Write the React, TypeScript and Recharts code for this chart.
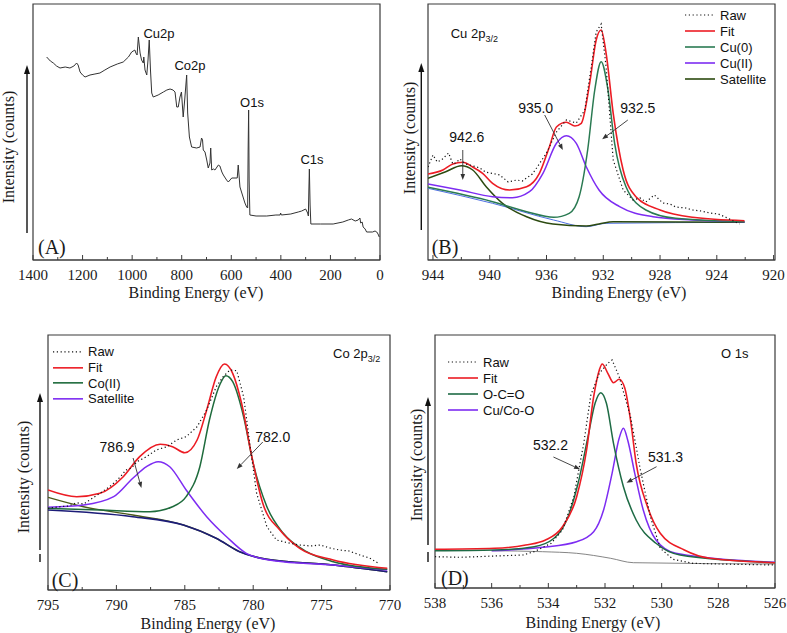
import React from 'react';
import { LineChart, Line, XAxis, YAxis, ReferenceArea, ReferenceLine, Legend, Label } from 'recharts';

type Pt = [number, number];

// ---------- (A) survey ----------
const A_SURVEY: Pt[] = [
  [1345, 203], [1330, 199], [1318, 197], [1305, 194], [1291, 192], [1270, 193], [1251, 192], [1235, 194],
  [1224, 197], [1218, 195], [1210, 188], [1200, 185], [1190, 183], [1170, 185], [1150, 186], [1130, 187],
  [1110, 190], [1089, 193], [1060, 196], [1036, 198], [1015, 203], [1002, 208], [989, 210], [985, 207],
  [980, 205], [975, 223], [968, 207], [962, 200], [955, 197], [953, 203], [948, 190], [941, 185],
  [936, 200], [931, 220], [926, 190], [921, 167], [915, 163], [895, 165], [874, 168], [860, 170],
  [847, 171], [835, 170], [827, 168], [820, 153], [814, 153], [807, 163], [801, 168], [794, 143],
  [788, 160], [780, 185], [776, 147], [769, 123], [760, 113], [740, 112], [726, 113], [720, 122],
  [716, 120], [713, 110], [706, 108], [699, 100], [693, 92], [686, 97], [683, 112], [679, 90],
  [672, 91], [666, 90], [652, 95], [646, 94], [638, 88], [632, 85], [619, 80], [612, 78],
  [598, 82], [585, 82], [576, 82], [572, 95], [565, 73], [555, 65], [545, 57], [538, 53],
  [534, 52], [532, 110], [530, 150], [528, 80], [525, 45], [500, 44], [457, 44], [420, 45],
  [403, 45], [401, 47], [398, 45], [360, 46], [330, 48], [316, 49], [300, 51], [292, 47],
  [289, 44], [287, 70], [285, 91], [282, 55], [279, 36], [240, 36], [189, 36], [150, 38],
  [128, 40], [115, 41], [100, 39], [88, 40], [81, 42], [78, 37], [72, 38], [68, 33],
  [60, 31], [54, 28], [30, 28], [20, 29], [13, 28], [8, 26], [3, 23],
];
const A_MAJOR = [1400, 1200, 1000, 800, 600, 400, 200, 0];
const A_MINOR = [1300, 1100, 900, 700, 500, 300, 100];
const A_PEAK_NAMES = ['Cu2p', 'Co2p', 'O1s', 'C1s'];

// ---------- (B) Cu 2p3/2 ----------
const B_RAW: Pt[] = [
  [944.35, 93], [944, 105], [943.7, 98], [943.4, 100], [942.9, 107], [942.6, 96], [942.4, 97], [942.1, 101],
  [941.7, 96], [941.4, 95], [940.7, 92], [940.3, 88], [940, 87], [939.6, 86], [939.3, 85], [938.7, 78],
  [938.1, 80], [937.7, 79], [937.4, 82], [937, 86], [936.7, 92], [936, 107], [935.3, 128], [934.6, 140],
  [933.9, 137], [933.3, 150], [932.85, 193], [932.5, 228], [932.15, 236], [931.8, 193], [931.3, 100], [930.6, 70],
  [929.9, 60], [929.4, 62], [929, 58], [928.4, 65], [927.8, 57], [927.3, 56], [926.9, 53], [926.2, 52],
  [925.7, 50], [925.1, 49], [924.5, 47], [923.9, 46], [923.4, 43], [922.4, 36],
];
const B_FIT: Pt[] = [
  [944.35, 86], [943.3, 90], [942.6, 96], [941.9, 97.7], [941.2, 93], [940.5, 86.7], [939.8, 76.7], [938.6, 70],
  [937.4, 73.3], [936.5, 86.7], [935.8, 113], [935.3, 133], [934.6, 137.7], [934.0, 134], [933.55, 136.7], [932.96, 176.7],
  [932.5, 220], [932.15, 230], [931.8, 206.7], [931.3, 146.7], [930.6, 90], [929.7, 63.3], [928.0, 50], [925.7, 42.7],
  [922.05, 39.3],
];
const B_CU0: Pt[] = [
  [944.35, 72.7], [939.8, 58.3], [937.4, 48.3], [935.5, 42.7], [934.4, 46.7], [933.7, 63.3], [933.1, 110], [932.6, 170],
  [932.15, 198.3], [931.7, 173], [931.2, 116.7], [930.4, 73.3], [929, 50], [926.9, 41.7], [922.05, 38.3],
];
const B_CU2: Pt[] = [
  [944.35, 76], [942.1, 70], [939.8, 63.3], [938.4, 62.3], [937.2, 68.3], [936.25, 86.7], [935.3, 116.7], [934.6, 124.3],
  [933.9, 116.7], [933.2, 93.3], [932.3, 70], [930.85, 53.3], [928.5, 43.3], [925.7, 40], [922.05, 38.3],
];
const B_SAT: Pt[] = [
  [944.35, 81.7], [943.1, 88.3], [942, 94.3], [941.2, 90], [940.25, 73.3], [939.1, 56.7], [937.4, 43.3], [935.55, 36],
  [933.2, 34], [932.3, 36], [931.3, 38.3], [922.05, 37.7],
];
const B_BASE: Pt[] = [[944.35, 71.7], [939.8, 56.7], [935.5, 40], [933.2, 33.3], [931.8, 36.7], [922.05, 37.7]];
const B_MAJOR = [944, 940, 936, 932, 928, 924, 920];
const B_MINOR = [942, 938, 934, 930, 926, 922];
const B_PEAKS = ['942.6', '935.0', '932.5'];

// ---------- (C) Co 2p3/2 ----------
const C_RAW: Pt[] = [
  [795, 81.7], [794.1, 83.3], [793.5, 84], [792.9, 87.3], [792.4, 86], [791.95, 90], [791.2, 96.7], [790.5, 103.3],
  [790.1, 108], [789.7, 113.3], [789.3, 120], [788.9, 122], [788.5, 128.3], [787.8, 133.3], [787.1, 140], [786.3, 143.3],
  [785.6, 150], [784.9, 153.3], [784.1, 163.3], [783.4, 180], [782.7, 203.3], [782.2, 213.3], [781.7, 220], [781.2, 219.3],
  [780.7, 193.3], [780.25, 146.7], [779.75, 96.7], [779, 63.3], [778.3, 50], [777.3, 46.7], [776.6, 45], [775.8, 44],
  [775.1, 45], [774.4, 42], [773.7, 40], [773, 39], [772.2, 35], [771.5, 32], [770.75, 26],
];
const C_FIT: Pt[] = [
  [795, 100], [792.9, 93.3], [791.2, 96.7], [789.5, 113.3], [788.3, 133.3], [786.8, 145.7], [785.9, 143.3], [785, 137.3],
  [784.1, 150], [783.4, 180], [782.7, 213.3], [782.1, 226], [781.5, 216.7], [780.85, 186.7], [780.1, 133.3], [779.3, 86.7],
  [778.05, 60], [776.6, 41.7], [774.15, 30], [770.2, 21.7],
];
const C_CO2: Pt[] = [
  [795, 81.7], [791.2, 80], [787.55, 78.3], [785.9, 83.3], [784.9, 93.3], [783.9, 123.3], [783.2, 170], [782.45, 205],
  [782, 214.3], [781.5, 208.3], [780.7, 173.3], [780, 126.7], [779, 83.3], [777.8, 56.7], [776.1, 38.3], [774.15, 28.3],
  [770.2, 20.7],
];
const C_SAT: Pt[] = [
  [795, 82.7], [792.4, 85], [790.2, 93.3], [788.8, 111.7], [787.8, 123.3], [786.95, 128.3], [786.1, 123.3], [784.9, 100],
  [783.4, 73.3], [781.95, 53.3], [780.5, 36.7], [778.5, 29.3], [774.15, 25], [770.2, 20],
];
const C_BASE_A: Pt[] = [[795, 92.7], [792.4, 83.3], [788.8, 75], [785.1, 65], [782.7, 51.7], [781, 38.3], [779, 30.7], [774.15, 25], [770.2, 18.3]];
const C_BASE_B: Pt[] = [[795, 80], [788.8, 73.3], [785.1, 65], [782.7, 51.7], [781, 38.3], [779, 30.7], [774.15, 25], [770.2, 18.3]];
const C_MAJOR = [795, 790, 785, 780, 775, 770];
const C_MINOR = [792.5, 787.5, 782.5, 777.5, 772.5];
const C_PEAKS = ['786.9', '782.0'];

// ---------- (D) O 1s ----------
const D_RAW: Pt[] = [
  [538, 31.3], [537.1, 30.7], [535.9, 32], [534.9, 33], [534.5, 36.3], [533.9, 44.7], [533.5, 58], [533.1, 91.3],
  [532.75, 144.7], [532.5, 193], [532.2, 214.7], [531.9, 224.7], [531.75, 228], [531.5, 211.3], [531.1, 171.3], [530.75, 118],
  [530.4, 71.3], [530.05, 39.7], [529.6, 28.7], [528.9, 24.7], [528, 24], [526, 23],
];
const D_FIT: Pt[] = [
  [538, 38.7], [535.9, 39.7], [534.8, 43], [534.1, 48], [533.5, 61.3], [533, 91.3], [532.65, 138], [532.4, 191.3],
  [532.2, 218], [532.1, 224], [531.9, 214.7], [531.7, 205.3], [531.5, 208.7], [531.3, 199.7], [531.1, 168], [530.9, 124.7],
  [530.5, 81.3], [530.05, 54.7], [529.2, 38], [528.3, 29.7], [526, 25.3],
];
const D_OCO: Pt[] = [
  [538, 37.3], [535.9, 38], [534.5, 41.3], [533.8, 49.7], [533.35, 68], [532.95, 104.7], [532.6, 151.3], [532.35, 184.7],
  [532.15, 195.3], [531.95, 184.7], [531.7, 144.7], [531.35, 101.3], [530.9, 68], [530.2, 44.7], [529.35, 33], [526, 25.3],
];
const D_COO: Pt[] = [
  [536, 37.3], [534.2, 40.7], [533, 46.3], [532.4, 56.3], [532.05, 78], [531.75, 114.7], [531.5, 149.7], [531.35, 159.7],
  [531.2, 148], [530.95, 114.7], [530.65, 78], [530.2, 48], [529.5, 34.7], [526, 25.7],
];
const D_BASE: Pt[] = [[536, 37.3], [534.2, 36.3], [533, 34.7], [531.8, 29.7], [531, 25.3], [526, 24]];
const D_MAJOR = [538, 536, 534, 532, 530, 528, 526];
const D_MINOR = [537, 535, 533, 531, 529, 527];
const D_PEAKS = ['532.2', '531.3'];

// ---------- styling ----------
const SERIF = '"Liberation Serif", "Times New Roman", serif';
const SANS = '"Liberation Sans", Arial, sans-serif';
const AXIS = '#3a3a3a';
const RED = '#ec1c24';
const PURPLE = '#7d2cf2';
const RAW_DASH = '1.2 2.6';

interface Series { name: string; data: Pt[]; color: string; width: number; dash?: string; curve?: 'monotone' | 'linear' }
interface Note { label: string; from: Pt; to: Pt; dx: number; dy: number }
interface YDecor { tx: number; ty: number; ax: number; top: number; bottom: number; gap?: [number, number] }

const pts = (d: Pt[]) => d.map(([e, v]) => ({ e, v }));

function XTick(props: any) {
  const { x, y, payload, major } = props;
  const isMajor = major.includes(payload.value);
  return (
    <g>
      <line x1={x} y1={y} x2={x} y2={y - (isMajor ? 5 : 3)} stroke={AXIS} strokeWidth={1} />
      {isMajor && (
        <text x={x} y={y + 15} textAnchor="middle" dominantBaseline="central" fontFamily={SERIF} fontSize={15} fill="#1a1a1a">
          {payload.value}
        </text>
      )}
    </g>
  );
}

function arrowShape(note: Note) {
  return (p: any) => {
    const { x1, y1, x2, y2 } = p;
    const a = Math.atan2(y2 - y1, x2 - x1);
    const len = 6, w = 2.3;
    const bx = x2 - len * Math.cos(a), by = y2 - len * Math.sin(a);
    const head = `${x2},${y2} ${bx - w * Math.sin(a)},${by + w * Math.cos(a)} ${bx + w * Math.sin(a)},${by - w * Math.cos(a)}`;
    return (
      <g>
        <line x1={x1} y1={y1} x2={bx} y2={by} stroke="#333" strokeWidth={0.9} />
        <polygon points={head} fill="#333" />
        <text x={x1 + note.dx} y={y1 + note.dy} textAnchor="middle" dominantBaseline="central" fontFamily={SANS} fontSize={14} fill="#111">
          {note.label}
        </text>
      </g>
    );
  };
}

// axis titles: x title under the axis, rotated y title with the upward arrow
function axisTitles(title: { x: number; y: number }, d: YDecor) {
  const segs: [number, number][] = d.gap ? [[d.top, d.gap[0]], [d.gap[1], d.bottom]] : [[d.top, d.bottom]];
  return (
    <g>
      <text x={title.x} y={title.y} textAnchor="middle" dominantBaseline="central" fontFamily={SERIF} fontSize={16} fill="#1a1a1a">
        Binding Energy (eV)
      </text>
      <text x={d.tx} y={d.ty} transform={`rotate(-90 ${d.tx} ${d.ty})`} textAnchor="middle" dominantBaseline="central" fontFamily={SERIF} fontSize={16} fill="#1a1a1a">
        Intensity (counts)
      </text>
      {segs.map(([a, b], i) => (
        <line key={i} x1={d.ax} y1={i === 0 ? a + 6 : a} x2={d.ax} y2={b} stroke="#111" strokeWidth={1.4} />
      ))}
      <polygon points={`${d.ax},${d.top} ${d.ax - 3},${d.top + 9} ${d.ax + 3},${d.top + 9}`} fill="#111" />
    </g>
  );
}

function LegendBox({ items, rowH }: { items: Series[]; rowH: number }) {
  return (
    <div style={{ fontFamily: SANS, fontSize: 13, color: '#111' }}>
      {items.map((s) => (
        <div key={s.name} style={{ display: 'flex', alignItems: 'center', height: rowH }}>
          <svg width={30} height={rowH} style={{ display: 'block' }}>
            <line x1={0} x2={30} y1={rowH / 2} y2={rowH / 2} stroke={s.color} strokeWidth={s.dash ? 1.2 : 1.6} strokeDasharray={s.dash} />
          </svg>
          <span style={{ marginLeft: 5, lineHeight: 1 }}>{s.name}</span>
        </div>
      ))}
    </div>
  );
}

interface PanelProps {
  left: number; top: number; width: number; height: number;
  margin: { top: number; right: number; bottom: number; left: number };
  xAxisHeight: number;
  xDomain: [number, number]; yDomain: [number, number];
  major: number[]; minor: number[];
  series: Series[];
  legend?: { items: Series[]; left: number; top: number; rowH: number };
  notes?: Note[];
  y: YDecor;
  title: { x: number; y: number };
  children?: React.ReactNode;
}

function Panel(p: PanelProps) {
  return (
    <div style={{ position: 'absolute', left: p.left, top: p.top, width: p.width, height: p.height }}>
      <LineChart width={p.width} height={p.height} margin={p.margin}>
        <XAxis
          type="number" dataKey="e" domain={p.xDomain} reversed allowDataOverflow
          ticks={[...p.major, ...p.minor]} interval={0} tickSize={0} tickMargin={0}
          tick={<XTick major={p.major} />} axisLine={{ stroke: AXIS, strokeWidth: 1.2 }} height={p.xAxisHeight}
        >
          <Label content={() => axisTitles(p.title, p.y)} />
        </XAxis>
        <YAxis type="number" domain={p.yDomain} allowDataOverflow tick={false} tickLine={false} width={0} axisLine={{ stroke: AXIS, strokeWidth: 1.2 }} />
        <ReferenceArea x1={p.xDomain[0]} x2={p.xDomain[1]} y1={p.yDomain[0]} y2={p.yDomain[1]} fill="none" stroke={AXIS} strokeWidth={1.2} ifOverflow="visible" />
        {p.series.map((s) => (
          <Line
            key={s.name} name={s.name} data={pts(s.data)} dataKey="v" type={s.curve ?? 'monotone'}
            stroke={s.color} strokeWidth={s.width} strokeDasharray={s.dash} dot={false} activeDot={false}
            isAnimationActive={false} legendType="none"
          />
        ))}
        {(p.notes ?? []).map((n) => (
          <ReferenceLine
            key={n.label} segment={[{ x: n.from[0], y: n.from[1] }, { x: n.to[0], y: n.to[1] }]}
            ifOverflow="visible" shape={arrowShape(n)}
          />
        ))}
        {p.legend && (
          <Legend
            layout="vertical" align="center" verticalAlign="middle"
            wrapperStyle={{ left: p.legend.left, top: p.legend.top, width: 'auto', height: 'auto' }}
            content={() => <LegendBox items={p.legend!.items} rowH={p.legend!.rowH} />}
          />
        )}
      </LineChart>
      {p.children}
    </div>
  );
}

const tag = (x: number, y: number): React.CSSProperties => ({
  position: 'absolute', left: x, top: y, fontFamily: SERIF, fontSize: 20, lineHeight: 1, color: '#1a1a1a', whiteSpace: 'nowrap',
});

const peakText = (x: number, y: number): React.CSSProperties => ({
  position: 'absolute', left: x, top: y, transform: 'translate(-50%, -50%)', fontFamily: SANS, fontSize: 13, color: '#111', whiteSpace: 'nowrap',
});

const titleStyle = (x: number, y: number): React.CSSProperties => ({
  position: 'absolute', left: x, top: y, transform: 'translateY(-50%)', fontFamily: SANS, fontSize: 13, color: '#111', whiteSpace: 'nowrap',
});

export default function App() {
  const bRaw: Series = { name: 'Raw', data: B_RAW, color: '#111', width: 1.2, dash: RAW_DASH, curve: 'linear' };
  const bFit: Series = { name: 'Fit', data: B_FIT, color: RED, width: 1.6 };
  const bCu0: Series = { name: 'Cu(0)', data: B_CU0, color: '#2a7a52', width: 1.5 };
  const bCu2: Series = { name: 'Cu(II)', data: B_CU2, color: PURPLE, width: 1.5 };
  const bSat: Series = { name: 'Satellite', data: B_SAT, color: '#2c4a10', width: 1.5 };
  const bBase: Series = { name: 'base', data: B_BASE, color: '#4d6fe3', width: 1 };

  const cRaw: Series = { name: 'Raw', data: C_RAW, color: '#111', width: 1.2, dash: RAW_DASH, curve: 'linear' };
  const cFit: Series = { name: 'Fit', data: C_FIT, color: RED, width: 1.6 };
  const cCo2: Series = { name: 'Co(II)', data: C_CO2, color: '#1e6b3c', width: 1.5 };
  const cSat: Series = { name: 'Satellite', data: C_SAT, color: PURPLE, width: 1.5 };
  const cBaseA: Series = { name: 'baseA', data: C_BASE_A, color: '#4b5a1a', width: 1.4 };
  const cBaseB: Series = { name: 'baseB', data: C_BASE_B, color: '#1c1c78', width: 1.6 };

  const dRaw: Series = { name: 'Raw', data: D_RAW, color: '#111', width: 1.2, dash: RAW_DASH, curve: 'linear' };
  const dFit: Series = { name: 'Fit', data: D_FIT, color: RED, width: 1.6 };
  const dOco: Series = { name: 'O-C=O', data: D_OCO, color: '#1e6b45', width: 1.5 };
  const dCoo: Series = { name: 'Cu/Co-O', data: D_COO, color: PURPLE, width: 1.5 };
  const dBase: Series = { name: 'base', data: D_BASE, color: '#777', width: 0.9 };

  return (
    <div style={{ position: 'absolute', left: 0, top: 0, width: 787, height: 633, background: '#fff' }}>
      {/* (A) survey */}
      <Panel
        left={0} top={0} width={393} height={310}
        margin={{ top: 4, right: 13, left: 33, bottom: 0 }} xAxisHeight={50}
        xDomain={[0, 1400]} yDomain={[0, 256]} major={A_MAJOR} minor={A_MINOR}
        series={[{ name: 'survey', data: A_SURVEY, color: '#333', width: 1, curve: 'linear' }]}
        y={{ tx: 8.5, ty: 147, ax: 27, top: 65, bottom: 233 }}
        title={{ x: 196, y: 292 }}
      >
        <div style={tag(38, 237)}>(A)</div>
        <div style={peakText(159, 33)}>{A_PEAK_NAMES[0]}</div>
        <div style={peakText(190, 65)}>{A_PEAK_NAMES[1]}</div>
        <div style={peakText(252, 102)}>{A_PEAK_NAMES[2]}</div>
        <div style={peakText(312, 159)}>{A_PEAK_NAMES[3]}</div>
      </Panel>

      {/* (B) Cu 2p */}
      <Panel
        left={393} top={0} width={394} height={310}
        margin={{ top: 4, right: 12, left: 35, bottom: 0 }} xAxisHeight={50}
        xDomain={[919.9, 944.35]} yDomain={[0, 256]} major={B_MAJOR} minor={B_MINOR}
        series={[bBase, bSat, bCu2, bCu0, bFit, bRaw]}
        legend={{ items: [bRaw, bFit, bCu0, bCu2, bSat], left: 292, top: 7, rowH: 16 }}
        notes={[
          { label: B_PEAKS[0], from: [941.9, 110], to: [941.9, 80], dx: 4, dy: -13 },
          { label: B_PEAKS[1], from: [936.13, 145], to: [934.85, 110], dx: -9, dy: -7 },
          { label: B_PEAKS[2], from: [930.27, 140], to: [932.08, 120.7], dx: 10, dy: -12 },
        ]}
        y={{ tx: 16.7, ty: 138, ax: 28.3, top: 63, bottom: 230 }}
        title={{ x: 226, y: 292 }}
      >
        <div style={tag(38.7, 237)}>(B)</div>
        <div style={titleStyle(57.7, 35)}>Cu 2p<sub style={{ fontSize: 9 }}>3/2</sub></div>
      </Panel>

      {/* (C) Co 2p */}
      <Panel
        left={0} top={310} width={410} height={323}
        margin={{ top: 25, right: 20, left: 48, bottom: 0 }} xAxisHeight={43}
        xDomain={[770, 795]} yDomain={[0, 255]} major={C_MAJOR} minor={C_MINOR}
        series={[cBaseA, cBaseB, cSat, cCo2, cFit, cRaw]}
        legend={{ items: [cRaw, cFit, cCo2, cSat], left: 53, top: 34, rowH: 15.7 }}
        notes={[
          { label: C_PEAKS[0], from: [788.78, 132], to: [788.17, 102], dx: -16, dy: -11 },
          { label: C_PEAKS[1], from: [779.3, 148], to: [781.2, 121], dx: 10, dy: -5 },
        ]}
        y={{ tx: 23, ty: 167, ax: 40, top: 83, bottom: 252, gap: [240, 244] }}
        title={{ x: 208, y: 313 }}
      >
        <div style={tag(51.7, 260)}>(C)</div>
        <div style={titleStyle(333, 45)}>Co 2p<sub style={{ fontSize: 9 }}>3/2</sub></div>
      </Panel>

      {/* (D) O 1s */}
      <Panel
        left={393} top={310} width={394} height={323}
        margin={{ top: 25, right: 12, left: 42, bottom: 0 }} xAxisHeight={45}
        xDomain={[526, 538]} yDomain={[0, 253]} major={D_MAJOR} minor={D_MINOR}
        series={[dBase, dCoo, dOco, dFit, dRaw]}
        legend={{ items: [dRaw, dFit, dOco, dCoo], left: 55, top: 44, rowH: 16 }}
        notes={[
          { label: D_PEAKS[0], from: [533.82, 131], to: [532.88, 118.7], dx: -3, dy: -12 },
          { label: D_PEAKS[1], from: [530.18, 121.3], to: [531.24, 105.3], dx: 9, dy: -10 },
        ]}
        y={{ tx: 23.3, ty: 155, ax: 35, top: 87, bottom: 252, gap: [235, 242] }}
        title={{ x: 200, y: 312 }}
      >
        <div style={tag(48, 258)}>(D)</div>
        <div style={titleStyle(328, 43)}>O 1s</div>
      </Panel>
    </div>
  );
}
